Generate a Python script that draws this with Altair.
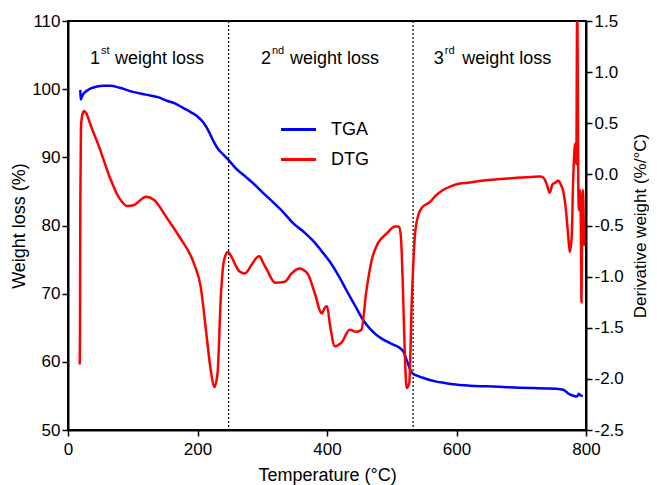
import altair as alt
import pandas as pd

# ---------------- data ----------------
tga_temp = [19, 19.5, 23, 28, 35, 45, 55, 65, 80, 100, 120, 140, 150, 165, 175, 190, 200,
            210, 218, 225, 232, 240, 248, 260, 275, 286, 300, 317, 333, 348, 365, 379, 392,
            405, 418, 430, 443, 456, 467, 477, 490, 505, 513, 518, 524, 531, 538, 544, 556,
            569, 582, 595, 620, 647, 672, 698, 720, 739, 752, 765, 772, 778, 786, 789, 791, 795]
tga_weight = [99.9, 98.5, 99.2, 99.7, 100.1, 100.4, 100.5, 100.5, 100.2, 99.6, 99.2, 98.8, 98.4,
              97.9, 97.4, 96.6, 96.0, 95.0, 93.7, 92.3, 91.2, 90.4, 89.6, 88.3, 87.1, 86.2,
              84.9, 83.4, 81.9, 80.3, 79.0, 77.7, 76.2, 74.6, 72.6, 70.5, 68.3, 66.1, 64.8,
              63.9, 63.1, 62.4, 62.0, 61.5, 60.0, 58.4, 58.0, 57.8, 57.4, 57.1, 56.9, 56.7,
              56.5, 56.4, 56.3, 56.2, 56.15, 56.1, 56.05, 55.9, 55.4, 55.1, 54.9, 55.3, 55.1, 55.0]

dtg_temp = [18, 18.5, 19, 20, 22, 25, 28, 35, 48, 64, 79, 92, 102, 112, 120, 133, 151, 172,
            195, 205, 213, 221, 226, 231, 236, 241, 247, 252, 258, 265, 273, 284, 292, 296,
            301, 307, 320, 335, 345, 358, 365, 371, 381, 392, 397, 400, 405, 412, 423, 435,
            446, 453, 461, 469, 479, 492, 505, 511, 514, 517, 520, 523, 527, 531, 536, 541,
            546, 559, 569, 580, 590, 605, 620, 636, 650, 667, 680, 698, 715, 729, 734, 739,
            744, 748, 753, 757, 761, 765, 770, 773, 775, 778, 780, 782, 783, 785, 786.5, 788,
            789, 790.5, 792, 793, 794, 795, 796, 797]
dtg_deriv = [-1.86, -1.55, -0.30, 0.45, 0.58, 0.62, 0.60, 0.48, 0.27, -0.02, -0.23, -0.31,
             -0.30, -0.25, -0.22, -0.25, -0.41, -0.61, -0.88, -1.10, -1.52, -1.94, -2.08,
             -1.94, -1.20, -0.84, -0.76, -0.80, -0.88, -0.95, -0.97, -0.88, -0.81, -0.80,
             -0.86, -0.93, -1.06, -1.05, -0.97, -0.92, -0.94, -0.98, -1.16, -1.36, -1.30,
             -1.29, -1.49, -1.68, -1.64, -1.52, -1.54, -1.52, -1.13, -0.84, -0.67, -0.58,
             -0.51, -0.51, -0.60, -1.06, -1.72, -2.09, -2.04, -1.23, -0.58, -0.40, -0.33,
             -0.27, -0.20, -0.15, -0.12, -0.09, -0.08, -0.065, -0.055, -0.045, -0.04, -0.03,
             -0.025, -0.02, -0.03, -0.09, -0.18, -0.10, -0.08, -0.06, -0.10, -0.17, -0.41,
             -0.64, -0.76, -0.60, -0.09, 0.22, 0.30, 0.10, 1.80, 0.00, -0.35, -0.15, -0.45,
             -1.25, -0.45, -0.15, -0.25, -0.70]

divider_temps = [248, 533]

stage_numbers = ["1", "2", "3"]
stage_suffixes = ["st", "nd", "rd"]
stage_words = ["weight loss", "weight loss", "weight loss"]
stage_number_temps = [34.0, 298.0, 565.0]
stage_word_temps = [72.6, 342.9, 609.0]
stage_level = 103.7

FONT = "Liberation Sans"

tga_df = pd.DataFrame({"T": tga_temp, "W": tga_weight, "series": "TGA",
                       "idx": range(len(tga_temp))})
dtg_df = pd.DataFrame({"T": dtg_temp, "D": dtg_deriv, "series": "DTG",
                       "idx": range(len(dtg_temp))})
div_df = pd.DataFrame({"T": divider_temps})
num_df = pd.DataFrame({"T": stage_number_temps, "W": [stage_level] * 3,
                       "num": stage_numbers, "sup": stage_suffixes})
word_df = pd.DataFrame({"T": stage_word_temps, "W": [stage_level] * 3, "word": stage_words})

x_enc = alt.X("T:Q", scale=alt.Scale(domain=[0, 800], nice=False),
              axis=alt.Axis(title="Temperature (°C)", values=[0, 200, 400, 600, 800],
                            labelFlush=False, labelPadding=5, titlePadding=9))
y_left = alt.Y("W:Q", scale=alt.Scale(domain=[50, 110], nice=False),
               axis=alt.Axis(title="Weight loss (%)", values=[50, 60, 70, 80, 90, 100, 110],
                             labelPadding=2, titlePadding=3))
color = alt.Color("series:N",
                  scale=alt.Scale(domain=["TGA", "DTG"], range=["#0000ff", "#ff0000"]),
                  legend=alt.Legend(title=None, orient="none", legendX=220, legendY=98,
                                    symbolType="M-2,0H2", symbolSize=306,
                                    symbolStrokeWidth=3, labelFontSize=18, labelFont=FONT,
                                    labelColor="black", labelOffset=22, rowPadding=10,
                                    padding=0))

tga = alt.Chart(tga_df).mark_line(strokeWidth=2.5, clip=True, interpolate="monotone").encode(
    x=x_enc, y=y_left, color=color, order="idx:Q")

rules = alt.Chart(div_df).mark_rule(strokeDash=[2, 2], color="black", strokeWidth=1.2).encode(
    x=x_enc)

num_txt = alt.Chart(num_df).mark_text(align="left", fontSize=18, font=FONT,
                                      color="black", baseline="alphabetic").encode(
    x=x_enc, y=y_left, text="num:N")
sup_txt = alt.Chart(num_df).mark_text(align="left", dx=11, dy=-10, fontSize=11, font=FONT,
                                      color="black", baseline="alphabetic").encode(
    x=x_enc, y=y_left, text="sup:N")
word_txt = alt.Chart(word_df).mark_text(align="left", fontSize=18, font=FONT,
                                        color="black", baseline="alphabetic").encode(
    x=x_enc, y=y_left, text="word:N")

left_layer = alt.layer(tga, rules, num_txt, sup_txt, word_txt)

dtg = alt.Chart(dtg_df).mark_line(strokeWidth=2.5, clip=True, interpolate="monotone").encode(
    x=x_enc,
    y=alt.Y("D:Q", scale=alt.Scale(domain=[-2.5, 1.5], nice=False),
            axis=alt.Axis(title="Derivative weight (%/°C)", orient="right",
                          values=[-2.5, -2.0, -1.5, -1.0, -0.5, 0.0, 0.5, 1.0, 1.5],
                          labelExpr="replace(format(datum.value, '.1f'), '\u2212', '-')",
                          labelPadding=2, titlePadding=9, titleAngle=270,
                          titleBaseline="top", titleFontSize=17)),
    color=color, order="idx:Q")

chart = alt.layer(left_layer, dtg).resolve_scale(y="independent").properties(
    width=518, height=409, autosize="none",
    padding={"left": 60, "top": 13, "right": 63, "bottom": 56},
).configure_view(stroke="black", strokeWidth=2).configure_axis(
    domainColor="black", domainWidth=2, tickColor="black", tickWidth=1.5, tickSize=6,
    labelFont=FONT, labelFontSize=17, labelColor="black", titleFont=FONT,
    titleFontSize=18, titleFontWeight="normal", titleColor="black", grid=False,
).configure_legend(labelFont=FONT)

chart.save("out.html", embed_options={"renderer": "svg", "actions": False})
